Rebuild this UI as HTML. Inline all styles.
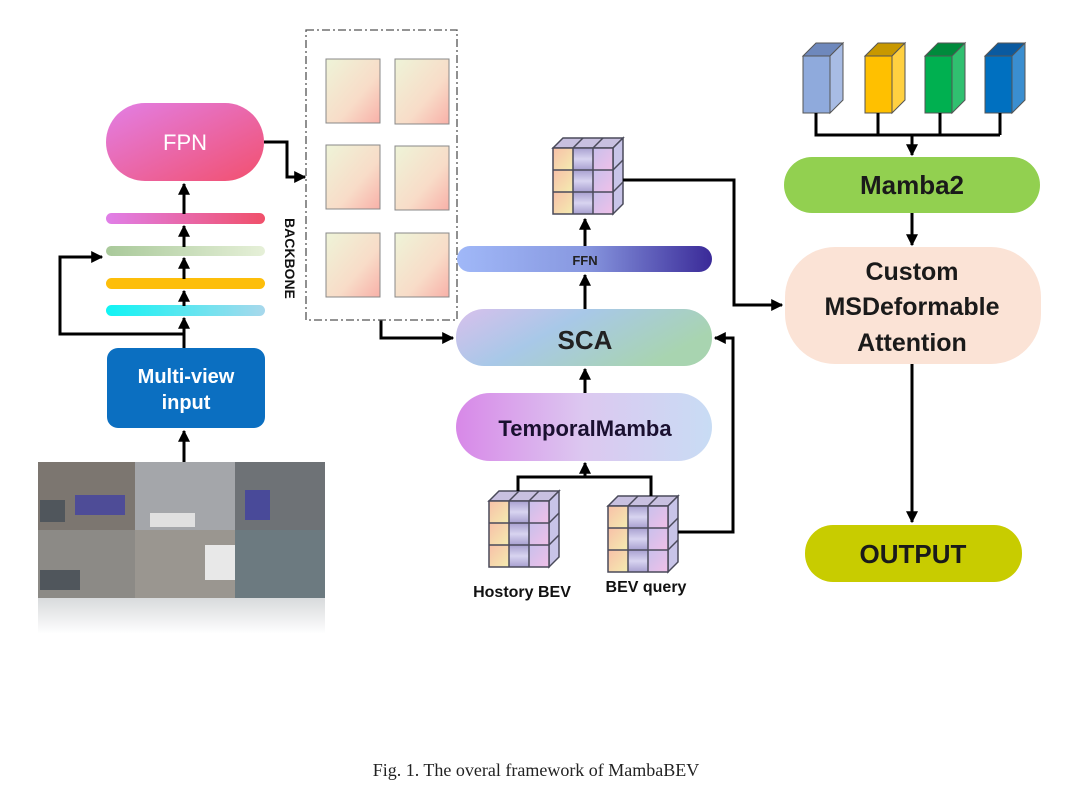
<!DOCTYPE html>
<html><head><meta charset="utf-8"><style>
html,body{margin:0;padding:0;background:#fff;}
svg{display:block;}
text{font-family:"Liberation Sans",sans-serif;}
</style></head><body>
<svg width="1080" height="796" viewBox="0 0 1080 796" xmlns="http://www.w3.org/2000/svg">
<defs>
<linearGradient id="gFpn" x1="0" y1="0" x2="1" y2="1"><stop offset="0" stop-color="#e27fe6"/><stop offset="1" stop-color="#f2506e"/></linearGradient>
<linearGradient id="gB1" x1="0" x2="1"><stop offset="0" stop-color="#e07fe8"/><stop offset="1" stop-color="#f0506a"/></linearGradient>
<linearGradient id="gB2" x1="0" x2="1"><stop offset="0" stop-color="#a9c99a"/><stop offset="1" stop-color="#e6f0d8"/></linearGradient>
<linearGradient id="gB4" x1="0" x2="1"><stop offset="0" stop-color="#10f4f4"/><stop offset="1" stop-color="#a8d8ec"/></linearGradient>
<linearGradient id="gRect" x1="0" y1="0" x2="1" y2="1"><stop offset="0" stop-color="#eef4d8"/><stop offset="0.6" stop-color="#f8dcc8"/><stop offset="1" stop-color="#f8b0a8"/></linearGradient>
<linearGradient id="gFfn" x1="0" x2="1"><stop offset="0" stop-color="#a0b8f8"/><stop offset="0.5" stop-color="#8898e0"/><stop offset="1" stop-color="#3a2a98"/></linearGradient>
<linearGradient id="gSca" x1="0" y1="0" x2="1" y2="0.4"><stop offset="0" stop-color="#d8c0ec"/><stop offset="0.45" stop-color="#a8c8e8"/><stop offset="1" stop-color="#a8d4b0"/></linearGradient>
<linearGradient id="gTm" x1="0" x2="1"><stop offset="0" stop-color="#d888e8"/><stop offset="0.5" stop-color="#dcc8f0"/><stop offset="1" stop-color="#c8dcf4"/></linearGradient>
<linearGradient id="gRef" x1="0" y1="0" x2="0" y2="1"><stop offset="0" stop-color="#d8dadc"/><stop offset="1" stop-color="#ffffff"/></linearGradient>
<linearGradient id="c1" x1="0" y1="0" x2="1" y2="1"><stop offset="0" stop-color="#f8c0a8"/><stop offset="1" stop-color="#f4ecb0"/></linearGradient>
<linearGradient id="c2" x1="0" y1="0" x2="0" y2="1"><stop offset="0" stop-color="#a8a0d0"/><stop offset="0.5" stop-color="#d8d4f0"/><stop offset="1" stop-color="#a8a0d0"/></linearGradient>
<linearGradient id="c3" x1="0" y1="0" x2="1" y2="1"><stop offset="0" stop-color="#c8c0ec"/><stop offset="1" stop-color="#f0c0e8"/></linearGradient>
<marker id="ar" viewBox="0 0 10 10" refX="9" refY="5" markerWidth="4" markerHeight="4" orient="auto-start-reverse"><path d="M0,0 L10,5 L0,10 z" fill="#000"/></marker>
<g id="cube">
  <polygon points="0,10 10,0 70,0 60,10" fill="#c8c0e0" stroke="#4a4a5a" stroke-width="1.5"/>
  <polygon points="60,10 70,0 70,66 60,76" fill="#c8c4e8" stroke="#4a4a5a" stroke-width="1.5"/>
  <rect x="0" y="10" width="20" height="22" fill="url(#c1)"/><rect x="20" y="10" width="20" height="22" fill="url(#c2)"/><rect x="40" y="10" width="20" height="22" fill="url(#c3)"/>
  <rect x="0" y="32" width="20" height="22" fill="url(#c1)"/><rect x="20" y="32" width="20" height="22" fill="url(#c2)"/><rect x="40" y="32" width="20" height="22" fill="url(#c3)"/>
  <rect x="0" y="54" width="20" height="22" fill="url(#c1)"/><rect x="20" y="54" width="20" height="22" fill="url(#c2)"/><rect x="40" y="54" width="20" height="22" fill="url(#c3)"/>
  <path d="M0,10 H60 V76 H0 Z M20,10 V76 M40,10 V76 M0,32 H60 M0,54 H60 M60,32 L70,22 M60,54 L70,44 M20,10 L30,0 M40,10 L50,0" fill="none" stroke="#4a4a5a" stroke-width="1.5"/>
</g>
</defs>

<!-- FPN -->
<rect x="106" y="103" width="158" height="78" rx="39" fill="url(#gFpn)"/>
<text x="185" y="150" font-size="22" fill="#fff" text-anchor="middle">FPN</text>
<rect x="106" y="213" width="159" height="11" rx="5.5" fill="url(#gB1)"/>
<rect x="106" y="246" width="159" height="10" rx="5" fill="url(#gB2)"/>
<rect x="106" y="278" width="159" height="11" rx="5.5" fill="#fdbe0a"/>
<rect x="106" y="305" width="159" height="11" rx="5.5" fill="url(#gB4)"/>
<g stroke="#000" stroke-width="3" fill="none">
<line x1="184" y1="348" x2="184" y2="318" marker-end="url(#ar)"/>
<line x1="184" y1="306" x2="184" y2="291" marker-end="url(#ar)"/>
<line x1="184" y1="279" x2="184" y2="258" marker-end="url(#ar)"/>
<line x1="184" y1="247" x2="184" y2="226" marker-end="url(#ar)"/>
<line x1="184" y1="214" x2="184" y2="184" marker-end="url(#ar)"/>
<polyline points="184,334 60,334 60,257 102,257" marker-end="url(#ar)"/>
<line x1="184" y1="462" x2="184" y2="431" marker-end="url(#ar)"/>
<polyline points="264,142 287,142 287,177 305,177" marker-end="url(#ar)"/>
<polyline points="381,320 381,338 453,338" marker-end="url(#ar)"/>
</g>
<!-- Multi-view -->
<rect x="107" y="348" width="158" height="80" rx="11" fill="#0b6fc1"/>
<text x="186" y="383" font-size="20" font-weight="bold" fill="#fff" text-anchor="middle">Multi-view</text>
<text x="186" y="409" font-size="20" font-weight="bold" fill="#fff" text-anchor="middle">input</text>
<!-- image -->
<rect x="38" y="598" width="287" height="36" fill="url(#gRef)"/>
<rect x="38" y="462" width="287" height="136" rx="8" fill="#8a8c8e"/>
<rect x="38" y="462" width="97" height="68" fill="#7c7670"/>
<rect x="135" y="462" width="100" height="68" fill="#a4a6aa"/>
<rect x="235" y="462" width="90" height="68" fill="#6e7276"/>
<rect x="38" y="530" width="97" height="68" fill="#8c8a86"/>
<rect x="135" y="530" width="100" height="68" fill="#9a9690"/>
<rect x="235" y="530" width="90" height="68" fill="#6c7a80"/>
<rect x="150" y="513" width="45" height="14" fill="#e0e0e0"/>
<rect x="205" y="545" width="30" height="35" fill="#e8e8e8"/>
<rect x="75" y="495" width="50" height="20" fill="#3030b0" opacity="0.6"/>
<rect x="245" y="490" width="25" height="30" fill="#3030b0" opacity="0.6"/>
<rect x="40" y="500" width="25" height="22" fill="#50565c"/>
<rect x="40" y="570" width="40" height="20" fill="#50565c"/>
<!-- Backbone -->
<rect x="306" y="30" width="151" height="290" fill="none" stroke="#555" stroke-width="1.3" stroke-dasharray="8,3,2,3"/>
<g fill="url(#gRect)" stroke="#888" stroke-width="1">
<rect x="326" y="59" width="54" height="64"/><rect x="395" y="59" width="54" height="65"/>
<rect x="326" y="145" width="54" height="64"/><rect x="395" y="146" width="54" height="64"/>
<rect x="326" y="233" width="54" height="64"/><rect x="395" y="233" width="54" height="64"/>
</g>
<text transform="translate(285,218) rotate(90)" font-size="14" font-weight="bold" fill="#111">BACKBONE</text>
<!-- center column -->
<use href="#cube" x="553" y="138"/>
<rect x="457" y="246" width="255" height="26" rx="13" fill="url(#gFfn)"/>
<text x="585" y="265" font-size="13" font-weight="bold" fill="#222" text-anchor="middle">FFN</text>
<rect x="456" y="309" width="256" height="57" rx="28" fill="url(#gSca)"/>
<text x="585" y="349" font-size="26" font-weight="bold" fill="#222" text-anchor="middle">SCA</text>
<rect x="456" y="393" width="256" height="68" rx="34" fill="url(#gTm)"/>
<text x="585" y="436" font-size="22" font-weight="bold" fill="#1a1030" text-anchor="middle">TemporalMamba</text>
<use href="#cube" x="489" y="491"/>
<use href="#cube" x="608" y="496"/>
<text x="522" y="597" font-size="16" font-weight="bold" fill="#111" text-anchor="middle">Hostory BEV</text>
<text x="646" y="592" font-size="16" font-weight="bold" fill="#111" text-anchor="middle">BEV query</text>
<g stroke="#000" stroke-width="3" fill="none">
<line x1="585" y1="309" x2="585" y2="275" marker-end="url(#ar)"/>
<line x1="585" y1="246" x2="585" y2="219" marker-end="url(#ar)"/>
<line x1="585" y1="393" x2="585" y2="369" marker-end="url(#ar)"/>
<polyline points="518,491 518,477 651,477 651,496"/>
<line x1="585" y1="477" x2="585" y2="463" marker-end="url(#ar)"/>
<polyline points="678,532 733,532 733,338 715,338" marker-end="url(#ar)"/>
<polyline points="623,180 734,180 734,305 782,305" marker-end="url(#ar)"/>
</g>
<!-- right column -->
<g stroke="#555" stroke-width="1">
<polygon points="803,56 816,43 843,43 830,56" fill="#6e88bc"/><polygon points="830,56 843,43 843,100 830,113" fill="#a8bce4"/><rect x="803" y="56" width="27" height="57" fill="#8faadc"/>
<polygon points="865,56 878,43 905,43 892,56" fill="#c89800"/><polygon points="892,56 905,43 905,100 892,113" fill="#ffd040"/><rect x="865" y="56" width="27" height="57" fill="#ffc000"/>
<polygon points="925,56 938,43 965,43 952,56" fill="#008a3c"/><polygon points="952,56 965,43 965,100 952,113" fill="#30c070"/><rect x="925" y="56" width="27" height="57" fill="#00b050"/>
<polygon points="985,56 998,43 1025,43 1012,56" fill="#0a5aa0"/><polygon points="1012,56 1025,43 1025,100 1012,113" fill="#3a8ed0"/><rect x="985" y="56" width="27" height="57" fill="#0070c0"/>
</g>
<g stroke="#000" stroke-width="3" fill="none">
<polyline points="816,113 816,135 1000,135"/>
<line x1="878" y1="113" x2="878" y2="135"/><line x1="940" y1="113" x2="940" y2="135"/><line x1="1000" y1="113" x2="1000" y2="135"/>
<line x1="912" y1="135" x2="912" y2="155" marker-end="url(#ar)"/>
<line x1="912" y1="213" x2="912" y2="245" marker-end="url(#ar)"/>
<line x1="912" y1="364" x2="912" y2="522" marker-end="url(#ar)"/>
</g>
<rect x="784" y="157" width="256" height="56" rx="28" fill="#92d050"/>
<text x="912" y="194" font-size="26" font-weight="bold" fill="#1a1a1a" text-anchor="middle">Mamba2</text>
<rect x="785" y="247" width="256" height="117" rx="50" fill="#fbe3d6"/>
<text x="912" y="280" font-size="25" font-weight="bold" fill="#1a1a1a" text-anchor="middle">Custom</text>
<text x="912" y="315" font-size="25" font-weight="bold" fill="#1a1a1a" text-anchor="middle">MSDeformable</text>
<text x="912" y="351" font-size="25" font-weight="bold" fill="#1a1a1a" text-anchor="middle">Attention</text>
<rect x="805" y="525" width="217" height="57" rx="28" fill="#c8cc00"/>
<text x="913" y="563" font-size="26" font-weight="bold" fill="#1a1a1a" text-anchor="middle">OUTPUT</text>
<text x="536" y="776" font-size="18" fill="#222" text-anchor="middle" style="font-family:'Liberation Serif',serif">Fig. 1.  The overal framework of MambaBEV</text>
</svg>
</body></html>
